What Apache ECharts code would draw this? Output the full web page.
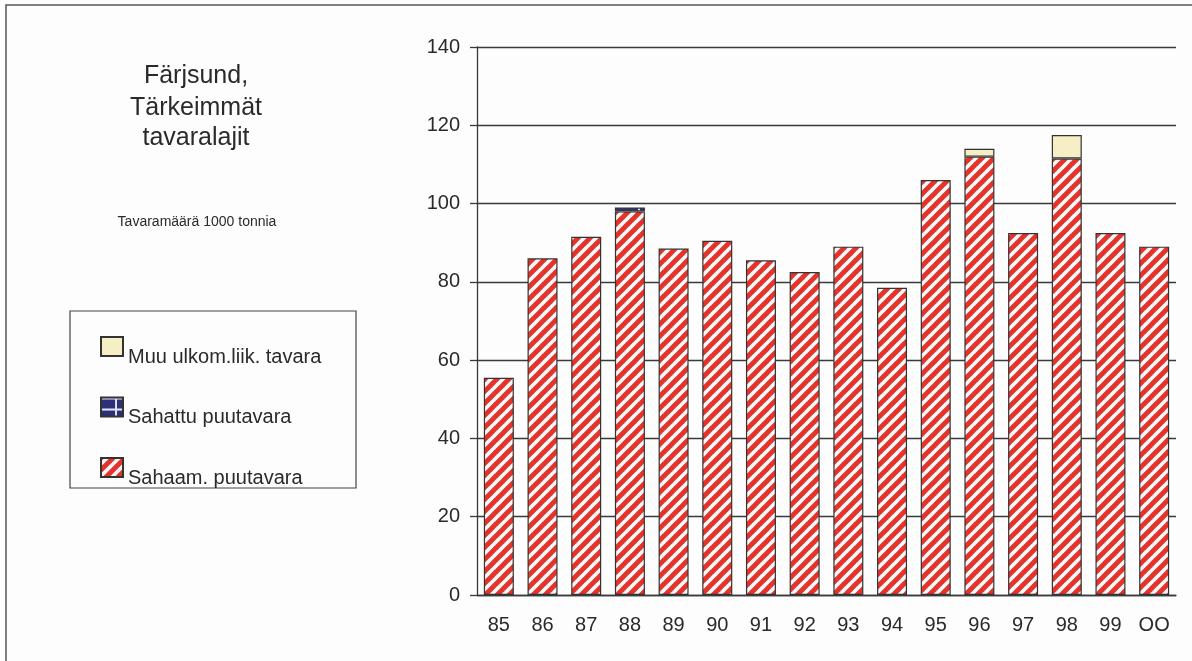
<!DOCTYPE html>
<html>
<head>
<meta charset="utf-8">
<style>
  html, body { margin: 0; padding: 0; background: #fdfdfd; }
  #chart { width: 1192px; height: 661px; }
</style>
<script src="https://cdn.jsdelivr.net/npm/echarts@6/dist/echarts.min.js"></script>
</head>
<body>
<div id="chart"></div>
<script>
// vuodet
const years = ['85', '86', '87', '88', '89', '90', '91', '92', '93', '94', '95', '96', '97', '98', '99', 'OO'];

// 1000 tonnia, luettu kuvasta
const sahaam = [55.5, 86, 91.5, 98, 88.5, 90.5, 85.5, 82.5, 89, 78.5, 106, 112, 92.5, 111.5, 92.5, 89];
const sahattu = [null, null, null, 1, null, null, null, null, null, null, null, null, null, null, null, null];
const muu = [null, null, null, null, null, null, null, null, null, null, null, 2, null, 6, null, null];

const yTicks = [0, 20, 40, 60, 80, 100, 120, 140];

const FONT = '"Liberation Sans", Arial, sans-serif';
const TEXT = '#2a2a2a';
const LINE = '#3a3a3a';

// raidallinen kuvio (punainen / valkoinen)
function stripePattern() {
  let c = document.createElement('canvas');
  c.width = 12;
  c.height = 12;
  let ctx = c.getContext('2d');
  ctx.fillStyle = '#f3fafa';
  ctx.fillRect(0, 0, 12, 12);
  ctx.strokeStyle = '#e5322b';
  ctx.lineWidth = 4.8;
  for (let o = -12; o <= 12; o += 12) {
    ctx.beginPath();
    ctx.moveTo(o - 2, 14);
    ctx.lineTo(o + 14, -2);
    ctx.stroke();
  }
  return {image: c, repeat: 'repeat'};
}

// tummansininen ruudukko
function gridPattern() {
  let c = document.createElement('canvas');
  c.width = 24;
  c.height = 24;
  let ctx = c.getContext('2d');
  ctx.fillStyle = '#2d3078';
  ctx.fillRect(0, 0, 24, 24);
  ctx.fillStyle = '#dfe6f5';
  ctx.fillRect(14, 0, 2, 24);
  ctx.fillRect(0, 0, 24, 2);
  ctx.fillRect(0, 11, 24, 2);
  return {image: c, repeat: 'repeat'};
}

// selitteen kuvake: neliö ylhäällä, näkymätön piste alhaalla siirtää sen tekstin yläpuolelle
const LEGEND_ICON = 'path://M0,0H22V19H0Z M0,40L0,40';

let chart = echarts.init(document.getElementById('chart'));

let option = {
  backgroundColor: '#fdfdfd',
  animation: false,
  graphic: [
    // ulkokehys
    {type: 'rect', shape: {x: 6, y: 5, width: 1300, height: 800},
      style: {fill: 'none', stroke: '#555', lineWidth: 1.5}, z: 0},
    {type: 'text', x: 196, y: 76, style: {text: 'Färjsund,', font: '25px ' + FONT, fill: TEXT,
      textAlign: 'center', textVerticalAlign: 'middle'}},
    {type: 'text', x: 196, y: 108, style: {text: 'Tärkeimmät', font: '25px ' + FONT, fill: TEXT,
      textAlign: 'center', textVerticalAlign: 'middle'}},
    {type: 'text', x: 196, y: 138, style: {text: 'tavaralajit', font: '25px ' + FONT, fill: TEXT,
      textAlign: 'center', textVerticalAlign: 'middle'}},
    {type: 'text', x: 197, y: 222, style: {text: 'Tavaramäärä 1000 tonnia', font: '14px ' + FONT, fill: TEXT,
      textAlign: 'center', textVerticalAlign: 'middle'}},
    // selitteen kehys
    {type: 'rect', shape: {x: 70, y: 311, width: 286, height: 177},
      style: {fill: '#fdfdfd', stroke: '#444', lineWidth: 1.2}, z: 1}
  ],
  legend: {
    orient: 'vertical',
    left: 100,
    top: 336,
    padding: 0,
    icon: LEGEND_ICON,
    itemWidth: 22,
    itemHeight: 40,
    itemGap: 18.5,
    z: 5,
    data: ['Muu ulkom.liik. tavara', 'Sahattu puutavara', 'Sahaam. puutavara'],
    textStyle: {
      fontFamily: FONT,
      fontSize: 20,
      color: TEXT
    }
  },
  grid: {
    left: 477,
    right: 16,
    top: 47,
    bottom: 66
  },
  xAxis: {
    type: 'category',
    data: years,
    axisLine: {lineStyle: {color: LINE, width: 1.3}},
    axisTick: {length: 7, lineStyle: {color: LINE, width: 1.3}},
    axisLabel: {fontFamily: FONT, fontSize: 20, color: TEXT, margin: 20}
  },
  yAxis: {
    type: 'value',
    min: yTicks[0],
    max: yTicks[yTicks.length - 1],
    interval: 20,
    axisLine: {show: true, lineStyle: {color: LINE, width: 1.3}},
    axisTick: {show: true, length: 7, lineStyle: {color: LINE, width: 1.3}},
    axisLabel: {fontFamily: FONT, fontSize: 20, color: TEXT, margin: 17},
    splitLine: {lineStyle: {color: LINE, width: 1.3}}
  },
  series: [
    {
      name: 'Sahaam. puutavara',
      type: 'bar',
      stack: 'tavara',
      barWidth: 30,
      data: sahaam,
      itemStyle: {color: stripePattern(), borderColor: '#333', borderWidth: 1.2}
    },
    {
      name: 'Sahattu puutavara',
      type: 'bar',
      stack: 'tavara',
      barWidth: 30,
      data: sahattu,
      itemStyle: {color: gridPattern(), borderColor: '#333', borderWidth: 1.2}
    },
    {
      name: 'Muu ulkom.liik. tavara',
      type: 'bar',
      stack: 'tavara',
      barWidth: 30,
      data: muu,
      itemStyle: {color: '#f6eec4', borderColor: '#333', borderWidth: 1.2}
    }
  ]
};

chart.setOption(option);
</script>
</body>
</html>
